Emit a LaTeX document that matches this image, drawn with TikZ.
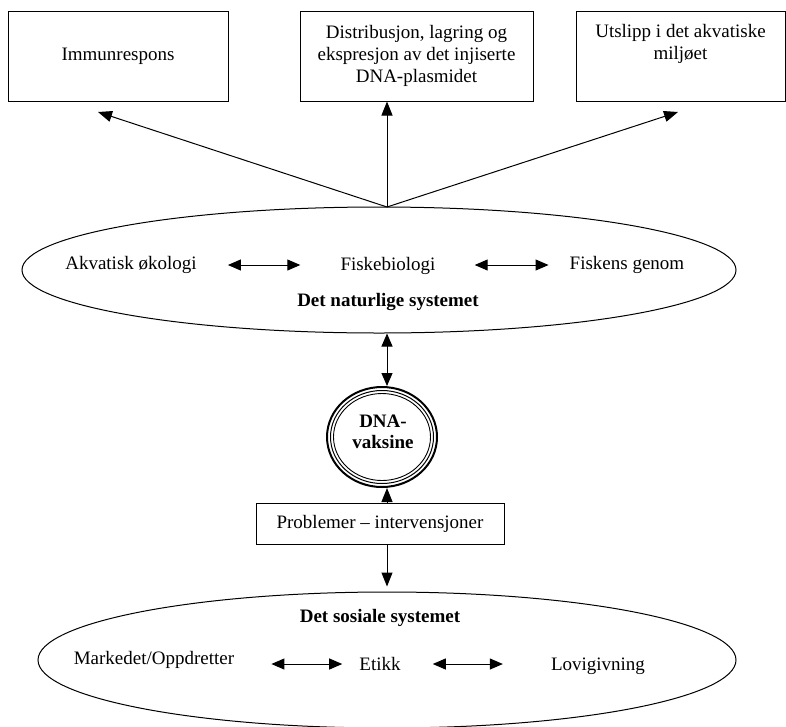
\documentclass[tikz,border=0pt]{standalone}
\usepackage{fontspec}
\setmainfont{Liberation Serif}
\usetikzlibrary{shapes.geometric,arrows.meta,calc}
\begin{document}
\begin{tikzpicture}[x=1pt,y=-1pt,
  every node/.style={font=\fontsize{19}{22}\selectfont},
  box/.style={draw,line width=1pt,rectangle,inner sep=0pt,align=center},
  sys/.style={draw,line width=1pt,ellipse,inner sep=0pt},
  lbl/.style={inner sep=0pt},
  bold/.style={inner sep=0pt,font=\fontsize{19}{21}\selectfont\bfseries},
  tip/.style={-{Triangle[length=14pt,width=11pt]}, line width=1pt},
  dbl/.style={{Triangle[length=13pt,width=11pt]}-{Triangle[length=13pt,width=11pt]}, line width=1pt},
]
\useasboundingbox (0,0) rectangle (786,726);

% top boxes
\node[box, minimum width=220pt, minimum height=90pt] (b1) at (118,56) {Immunrespons};
\node[box, minimum width=233pt, minimum height=90pt] (b2) at (416.5,56) {Distribusjon, lagring og\\ekspresjon av det injiserte\\DNA-plasmidet};
\node[box, minimum width=209pt, minimum height=90pt] (b3) at (680.5,56) {Utslipp i det akvatiske\\miljøet\\\strut};

% natural system
\node[sys, minimum width=714pt, minimum height=126pt] (nat) at (379,270) {};
\node[lbl] (ak) at (131,265) {Akvatisk økologi};
\node[lbl] (fb) at (388,266) {Fiskebiologi};
\node[lbl] (fg) at (627,265) {Fiskens genom};
\node[bold] (nats) at (388,302) {Det naturlige systemet};

% DNA vaccine
\node[sys, line width=2pt, minimum width=110pt, minimum height=100pt] (dna) at (382,437) {};
\node[sys, line width=1pt, minimum width=103pt, minimum height=93pt] (dna2) at (382,437) {};
\node[sys, line width=0.9pt, minimum width=97pt, minimum height=87pt] (dna3) at (382,437) {};
\node[bold, align=center] (dnat) at (383,432) {DNA-\\vaksine};

% problems box
\node[box, minimum width=248pt, minimum height=41pt] (prob) at (380,523.5) {Problemer – intervensjoner};

% social system
\node[sys, minimum width=698pt, minimum height=136pt] (soc) at (387,660) {};
\node[bold] (sos) at (380,618) {Det sosiale systemet};
\node[lbl] (mk) at (154,660) {Markedet/Oppdretter};
\node[lbl] (et) at (380,664) {Etikk};
\node[lbl] (lv) at (598,666) {Lovigivning};

% connectors
\coordinate (top) at (387,207);
\coordinate (axis) at (387,0);
\coordinate (t1) at (98,112);
\coordinate (t3) at (678,112);
\draw[tip] (top) -- (t1);
\draw[tip] (top) -- (b2.south -| top);
\draw[tip] (top) -- (t3);

\draw[dbl, shorten <=31pt, shorten >=40pt] (ak.east) -- (ak.east -| fb.west);
\draw[dbl, shorten <=39pt, shorten >=21pt] (fb.east |- ak.east) -- (fg.west);

\draw[dbl] (nat.south -| axis) -- (dna.north -| axis);
\draw[tip] (prob.north -| axis) -- (dna.south -| axis);
\draw[tip, shorten >=5pt] (prob.south -| axis) -- (soc.north -| axis);

\draw[dbl, shorten <=37pt, shorten >=17pt] (mk.east |- et.west) -- (et.west);
\draw[dbl, shorten <=32pt, shorten >=48pt] (et.east) -- (et.east -| lv.west);
\end{tikzpicture}
\end{document}
